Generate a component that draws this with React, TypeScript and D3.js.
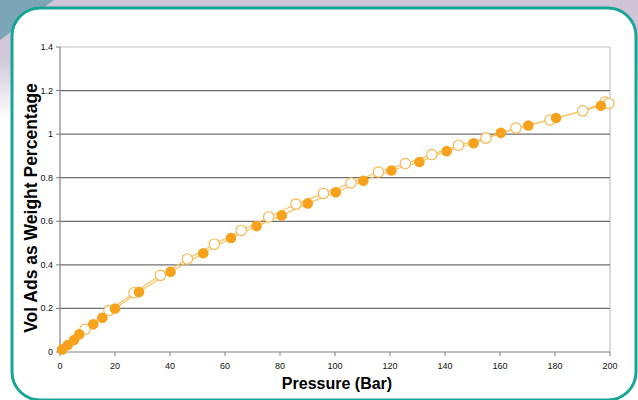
import React from 'react';
import * as d3 from 'd3';

// filled series (pressure, vol ads)
const filledX = [0.8, 2.8, 5.1, 7, 12.1, 15.4, 20, 28.7, 40.2, 52.1, 62.2, 71.5, 80.6, 90.1, 100.3, 110.3, 120.5, 130.7, 140.6, 150.4, 160.3, 170.3, 180.4, 196.7];
const filledY = [0.012, 0.032, 0.055, 0.081, 0.127, 0.157, 0.2, 0.275, 0.368, 0.453, 0.523, 0.578, 0.627, 0.682, 0.733, 0.786, 0.833, 0.872, 0.922, 0.958, 1.006, 1.04, 1.074, 1.13];

// open series
const openX = [9.1, 17.8, 26.9, 36.5, 46.3, 56.1, 65.9, 75.9, 85.8, 95.8, 105.8, 115.8, 125.6, 135.2, 144.9, 154.9, 165.8, 178.2, 190.1, 198.2, 199.6];
const openY = [0.104, 0.19, 0.272, 0.352, 0.427, 0.495, 0.558, 0.62, 0.679, 0.728, 0.776, 0.826, 0.865, 0.906, 0.949, 0.982, 1.028, 1.065, 1.107, 1.147, 1.141];

const xTicks = [0, 20, 40, 60, 80, 100, 120, 140, 160, 180, 200];
const yTicks = [0, 0.2, 0.4, 0.6, 0.8, 1, 1.2, 1.4];

const W = 638;
const H = 400;
const margin = { top: 47, right: 28, bottom: 48, left: 60 };

export default function App() {
  const x = d3.scaleLinear().domain([0, 200]).range([margin.left, W - margin.right]);
  const y = d3.scaleLinear().domain([0, 1.4]).range([H - margin.bottom, margin.top]);

  const filled = filledX.map((v, i) => [v, filledY[i]] as [number, number]);
  const open = openX.map((v, i) => [v, openY[i]] as [number, number]);
  const line = d3.line<[number, number]>().x(d => x(d[0])).y(d => y(d[1]));

  const font = '"Liberation Sans", Arial, sans-serif';
  const x0 = x(0), x1 = x(200), y0 = y(0), y1 = y(1.4);

  return (
    <svg width={W} height={H} style={{ position: 'absolute', left: 0, top: 0, display: 'block' }}>
      <defs>
        <linearGradient id="bg" x1="0" y1="0" x2="0" y2="1">
          <stop offset="0%" stopColor="#cfc3d7" />
          <stop offset="15%" stopColor="#d3c9da" />
          <stop offset="30%" stopColor="#ffffff" />
        </linearGradient>
      </defs>
      <rect x={0} y={0} width={W} height={H} fill="url(#bg)" />
      <path d="M0,0 L54,0 L0,40 Z" fill="#7ba6b8" />
      <rect x={12} y={8} width={624} height={392} rx={28} fill="#ffffff" stroke="#17a596" strokeWidth={3} />

      {/* plot frame */}
      <line x1={x0} x2={x1} y1={y1} y2={y1} stroke="#c4c4c4" strokeWidth={1.2} />
      <line x1={x1} x2={x1} y1={y1} y2={y0} stroke="#cfcfcf" strokeWidth={1.5} />

      {/* gridlines */}
      {yTicks.filter(t => t > 0 && t < 1.4).map(t => (
        <line key={t} x1={x0} x2={x1} y1={y(t)} y2={y(t)} stroke="#707070" strokeWidth={1.3} />
      ))}

      {/* axes */}
      <line x1={x0} x2={x0} y1={y1} y2={y0} stroke="#808080" strokeWidth={1.2} />
      <line x1={x0} x2={x1} y1={y0} y2={y0} stroke="#808080" strokeWidth={1.2} />
      {yTicks.map(t => (
        <g key={t}>
          <line x1={x0 - 4} x2={x0} y1={y(t)} y2={y(t)} stroke="#808080" />
          <text x={x0 - 7} y={y(t) + 3} textAnchor="end" fontSize={9} fontFamily={font} fill="#111">{t}</text>
        </g>
      ))}
      {xTicks.map(t => (
        <g key={t}>
          <line x1={x(t)} x2={x(t)} y1={y0} y2={y0 + 4} stroke="#808080" />
          <text x={x(t)} y={y0 + 17} textAnchor="middle" fontSize={9} fontFamily={font} fill="#111">{t}</text>
        </g>
      ))}

      {/* series lines */}
      <path d={line(open) || ''} fill="none" stroke="#fbc063" strokeWidth={1.2} />
      <path d={line(filled) || ''} fill="none" stroke="#fbc063" strokeWidth={1.2} />

      {open.map((d, i) => (
        <circle key={'o' + i} cx={x(d[0])} cy={y(d[1])} r={5.2} fill="#ffffff" stroke="#f9b347" strokeWidth={1.1} />
      ))}
      {filled.map((d, i) => (
        <circle key={'f' + i} cx={x(d[0])} cy={y(d[1])} r={5.3} fill="#f7a21c" />
      ))}

      <text x={(x0 + x1) / 2 + 2} y={389} textAnchor="middle" fontSize={16} fontWeight="bold" fontFamily={font} fill="#000">Pressure (Bar)</text>
      <text transform={`translate(37,208) rotate(-90)`} textAnchor="middle" fontSize={17.5} fontWeight="bold" fontFamily={font} fill="#000">Vol Ads as Weight Percentage</text>
    </svg>
  );
}
